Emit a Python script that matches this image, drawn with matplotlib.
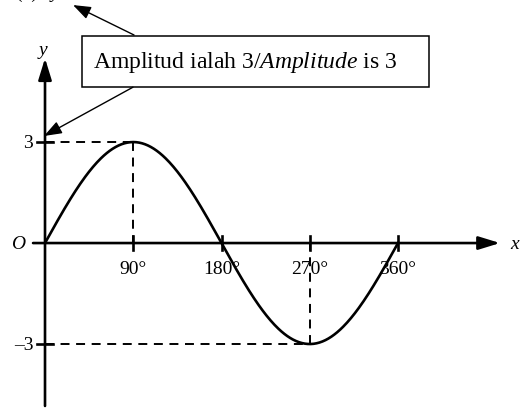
import numpy as np
import matplotlib
matplotlib.use("Agg")
import matplotlib.pyplot as plt
from matplotlib.patches import Rectangle

plt.rcParams['font.family'] = ['Liberation Serif', 'DejaVu Serif']
plt.rcParams['mathtext.fontset'] = 'custom'
plt.rcParams['mathtext.rm'] = 'Liberation Serif'
plt.rcParams['mathtext.it'] = 'Liberation Serif:italic'

# data
amplitude = 3
x_ticks = [90, 180, 270, 360]
x_tick_labels = ["90°", "180°", "270°", "360°"]
y_ticks = [3, -3]
y_tick_labels = ["3", "–3"]
deg = np.linspace(0, 360, 361)
y_vals = amplitude * np.sin(np.radians(deg))
box_text = r"Amplitud ialah 3/$\mathit{Amplitude}$ is 3"

fig = plt.figure(figsize=(5.25, 4.1), dpi=100)
ax = fig.add_axes([0, 0, 1, 1])
ax.set_xlim(-45.9, 489.5)
ax.set_ylim(-4.93, 7.25)
ax.axis("off")

lw = 1.9
fs = 14
arrow = dict(arrowstyle="-|>,head_length=0.65,head_width=0.2", mutation_scale=20,
             color="black", lw=lw, shrinkA=0, shrinkB=0)

# axes with arrows
ax.annotate("", xy=(464, 0), xytext=(-12.2, 0), arrowprops=arrow)
ax.annotate("", xy=(0, 5.49), xytext=(0, -4.84), arrowprops=arrow)
ax.text(474, 0, "x", style="italic", fontsize=fs, ha="left", va="center")
ax.text(-2, 5.75, "y", style="italic", fontsize=fs, ha="center", va="center")
ax.text(-20.5, 0, "O", style="italic", fontsize=fs, ha="right", va="center")

# ticks
for t, lab in zip(x_ticks, x_tick_labels):
    ax.plot([t, t], [-0.2, 0.2], color="black", lw=lw)
    ax.text(t, -0.75, lab, fontsize=fs, ha="center", va="center")
for t, lab in zip(y_ticks, y_tick_labels):
    ax.plot([-8, 8], [t, t], color="black", lw=lw)
    ax.text(-12, t, lab, fontsize=fs, ha="right", va="center")

# dashed guides
dash = dict(color="black", lw=1.4, ls=(0, (4.6, 3.4)))
ax.plot([0, 90], [3, 3], **dash)
ax.plot([90, 90], [3, 0], **dash)
ax.plot([0, 270], [-3, -3], **dash)
ax.plot([270, 270], [-3, 0], **dash)

# curve
ax.plot(deg, y_vals, color="black", lw=lw)

# label box and arrows
ax.add_patch(Rectangle((37.7, 4.63), 391.6 - 37.7, 6.15 - 4.63, fill=False,
                       edgecolor="black", lw=1.1))
ax.text(37.7 + 11, 5.39, box_text, fontsize=17, ha="left", va="center")
small = dict(arrowstyle="-|>,head_length=0.6,head_width=0.22", mutation_scale=18,
             color="black", lw=1.0, shrinkA=0, shrinkB=0)
ax.annotate("", xy=(28.6, 7.07), xytext=(90.8, 6.18), arrowprops=small)
ax.annotate("", xy=(-1.0, 3.18), xytext=(89.7, 4.63), arrowprops=small)

# cropped heading at the top edge
ax.text(-30, 7.3, "(c)  ", fontsize=fs, ha="left", va="baseline")
ax.text(6, 7.3, "y", style="italic", fontsize=fs, ha="left", va="baseline")

fig.savefig("out.png", dpi=100)
